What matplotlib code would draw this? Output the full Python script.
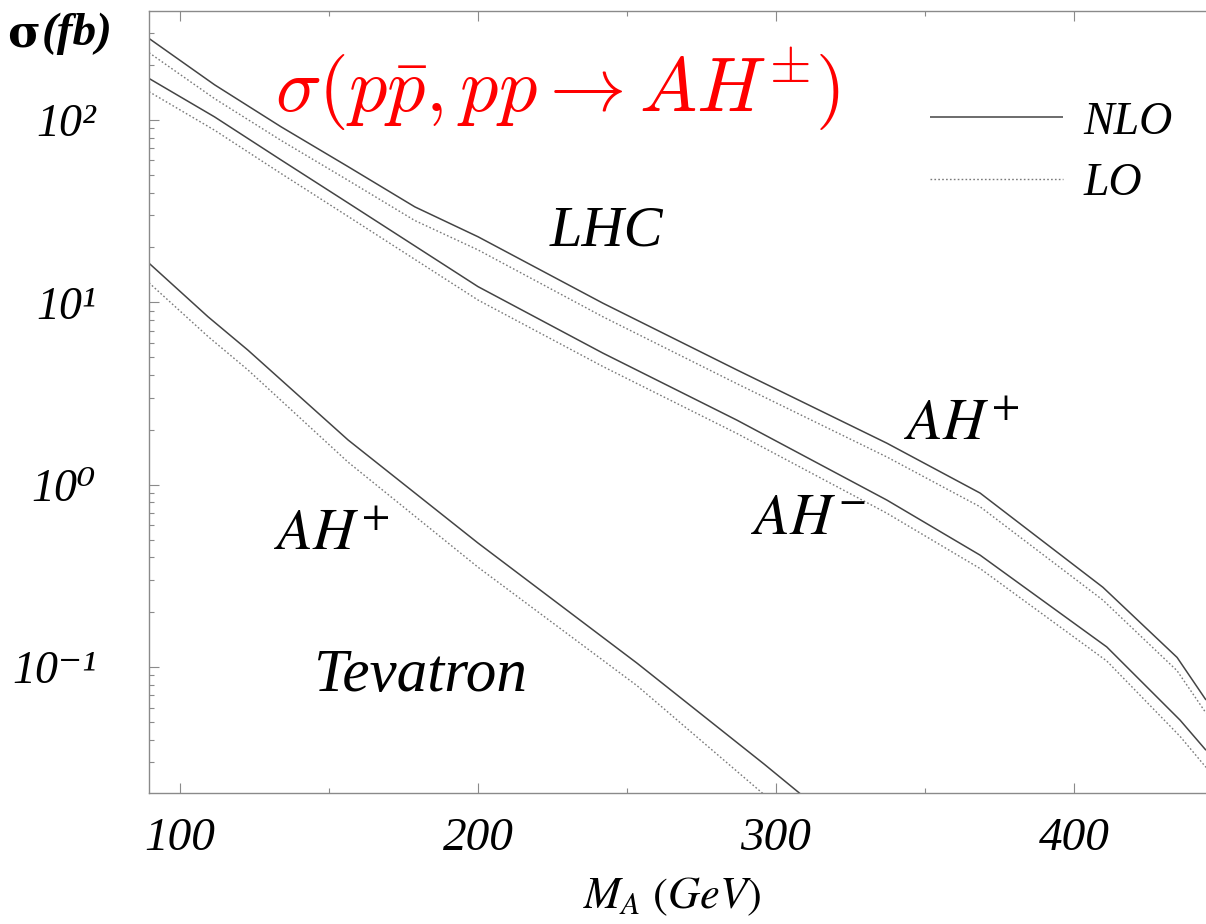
import matplotlib
matplotlib.use("Agg")
import matplotlib.pyplot as plt
from matplotlib.ticker import LogLocator, FixedLocator, NullFormatter, FixedFormatter

plt.rcParams['mathtext.fontset'] = 'stix'

# ---- data ----
lhc_p_x   = [89.6, 111.6, 133.9, 156.4, 178.8, 200.0, 241.9, 286.9, 337.2, 368.5, 409.7, 434.6, 444.3]
lhc_p_nlo = [280, 156, 91.8, 55.5, 33.4, 22.9, 9.9, 4.26, 1.69, 0.90, 0.274, 0.113, 0.066]
lhc_p_lo  = [234, 131, 77.3, 46.7, 28.1, 19.4, 8.34, 3.58, 1.42, 0.757, 0.233, 0.0955, 0.056]

lhc_m_x   = [89.6, 111.6, 133.9, 156.4, 200.0, 241.9, 286.9, 337.2, 368.5, 411.0, 435.6, 444.3]
lhc_m_nlo = [169, 104, 60.4, 35.1, 12.2, 5.27, 2.26, 0.824, 0.411, 0.129, 0.0512, 0.035]
lhc_m_lo  = [143, 87.9, 50.9, 29.6, 10.3, 4.45, 1.91, 0.698, 0.347, 0.108, 0.0417, 0.0282]

tev_x     = [89.6, 109.4, 122.8, 156.4, 200.0, 253.4, 296.0, 308.0, 312.0]
tev_nlo   = [16.4, 8.34, 5.47, 1.76, 0.479, 0.105, 0.0294, 0.0203, 0.018]
tev_lo    = [12.8, 6.5, 4.26, 1.33, 0.353, 0.079, 0.0200, 0.0137, 0.0120]

x_ticks = [100, 200, 300, 400]
x_tick_labels = ['100', '200', '300', '400']
y_ticks = [0.1, 1, 10, 100]
y_tick_labels = ['10\u207b\u00b9', '10\u2070', '10\u00b9', '10\u00b2']

W, H = 1206, 924
fig = plt.figure(figsize=(W / 100, H / 100), dpi=100)
ax = fig.add_axes([149 / W, (H - 793) / H, (W - 149) / W, (793 - 11) / H])

solid_kw = dict(color='#444444', lw=1.1, solid_capstyle='butt')
dot_kw = dict(color='#7a7a7a', lw=1.0, linestyle=(0, (1.2, 1.6)))

l1, = ax.plot(lhc_p_x, lhc_p_nlo, **solid_kw)
l2, = ax.plot(lhc_p_x, lhc_p_lo, **dot_kw)
ax.plot(lhc_m_x, lhc_m_nlo, **solid_kw)
ax.plot(lhc_m_x, lhc_m_lo, **dot_kw)
ax.plot(tev_x, tev_nlo, **solid_kw)
ax.plot(tev_x, tev_lo, **dot_kw)

ax.set_yscale('log')
ax.set_xlim(89.6, 444.3)
ax.set_ylim(0.0204, 396)

ax.xaxis.set_major_locator(FixedLocator(x_ticks))
ax.xaxis.set_major_formatter(FixedFormatter(x_tick_labels))
ax.xaxis.set_minor_locator(FixedLocator([150, 250, 350]))
ax.yaxis.set_major_locator(FixedLocator(y_ticks))
ax.yaxis.set_major_formatter(FixedFormatter(y_tick_labels))
ax.yaxis.set_minor_locator(LogLocator(base=10, subs=range(2, 10)))
ax.yaxis.set_minor_formatter(NullFormatter())

for s in ['left', 'bottom', 'top']:
    ax.spines[s].set_color('#8a8a8a')
    ax.spines[s].set_linewidth(1.0)
ax.spines['right'].set_visible(False)

ax.tick_params(which='both', direction='in', top=True, right=False, color='#8a8a8a', width=0.8)
ax.tick_params(which='major', length=7)
ax.tick_params(which='minor', length=3.5)
ax.tick_params(axis='x', which='major', pad=18, labelsize=34)
ax.tick_params(axis='y', which='major', pad=38, labelsize=33)
for lab in ax.get_xticklabels() + ax.get_yticklabels():
    lab.set_fontfamily(['Liberation Serif', 'DejaVu Serif'])
    lab.set_fontstyle('italic')

ax.set_xlabel(r'$M_{A}\ (GeV)$', fontsize=32, va='center')
ax.xaxis.set_label_coords((672 - 149) / (W - 149), -(897 - 793) / (793 - 11))

fig.text(40 / W, 1 - 34 / H, 'σ', fontsize=32, ha='right', va='center',
         family='DejaVu Serif', weight='bold')
fig.text(42 / W, 1 - 34 / H, '(fb)', fontsize=34, ha='left', va='center',
         family='Liberation Serif', weight='bold', style='italic')

fig.text(557 / W, 1 - 89 / H, r'$\sigma(p\bar{p}, pp \rightarrow AH^{\pm})$', color='red',
         fontsize=55, ha='center', va='center', math_fontfamily='cm')

txt_kw = dict(family='Liberation Serif', style='italic', ha='center', va='center')
fig.text(606 / W, 1 - 232 / H, 'LHC', fontsize=42, **txt_kw)
fig.text(421 / W, 1 - 676 / H, 'Tevatron', fontsize=44, **txt_kw)
fig.text(332 / W, 1 - 536 / H, r'$AH^{+}$', fontsize=42, **txt_kw)
fig.text(962 / W, 1 - 426 / H, r'$AH^{+}$', fontsize=42, **txt_kw)
fig.text(808 / W, 1 - 520 / H, r'$AH^{-}$', fontsize=42, **txt_kw)

leg = ax.legend([l1, l2], ['NLO', 'LO'], loc='upper left',
                bbox_to_anchor=(930 / W, 1 - 101 / H), bbox_transform=fig.transFigure,
                frameon=False, handlelength=2.9, handletextpad=0.45, labelspacing=0.42,
                borderpad=0, borderaxespad=0,
                prop=dict(family='Liberation Serif', style='italic', size=33))

fig.savefig('out.png', dpi=100)
